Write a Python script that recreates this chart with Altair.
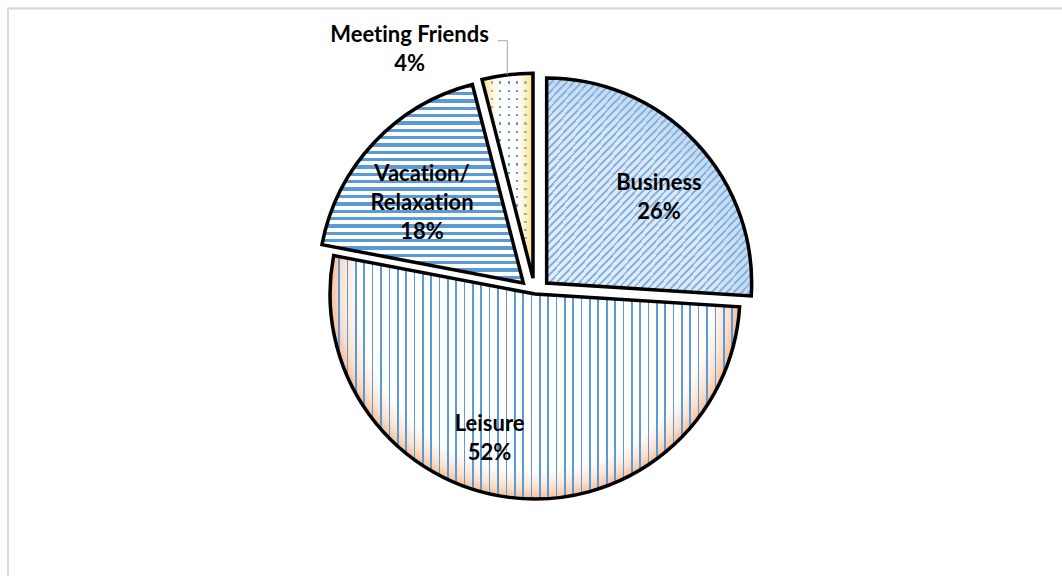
import math
import altair as alt
import pandas as pd

# Purpose of travel, share of respondents (%)
categories = ["Business", "Leisure", "Vacation/Relaxation", "Meeting Friends"]
shares = [26, 52, 18, 4]

df = pd.DataFrame({"category": categories, "share": shares, "order": list(range(len(categories)))})

# ---- layout / style -------------------------------------------------------
CX, CY = 535, 294          # pie centre (px)
R = 205                    # outer radius (px)
LABEL_R = 139              # default label distance from slice centre
LINE_H = 29                # label line height (px)
explode = {"Business": 16, "Leisure": 0, "Vacation/Relaxation": 16, "Meeting Friends": 16}
label_dx = {"Business": 11, "Leisure": -28, "Vacation/Relaxation": 0, "Meeting Friends": -106}
label_dy = {"Business": 10, "Leisure": 7, "Vacation/Relaxation": 15, "Meeting Friends": -91}
FONT = "Lato"
BLUE = "#5b9bd5"
CLEAR = "rgba(255,255,255,0)"


def by_cat(mapping):
    expr = " : ".join(f"datum.category === '{k}' ? {v}" for k, v in mapping.items())
    return f"({expr} : 0)"


def stop(color, offset):
    return alt.GradientStop(color=color, offset=round(min(max(offset, 0), 1), 5))


def stripes(n, frac, on, off, x2, y2):
    stops = []
    for i in range(n):
        a, b, c = i / n, (i + frac) / n, (i + 1) / n
        stops += [stop(on, a), stop(on, b), stop(off, b), stop(off, c)]
    return alt.LinearGradient(gradient="linear", stops=stops, x1=0, y1=0, x2=x2, y2=y2)


def radial(cx, cy, r, stops):
    return alt.RadialGradient(gradient="radial", x1=cx, y1=cy, r1=0, x2=cx, y2=cy, r2=r,
                              stops=[stop(c, o) for c, o in stops])


base = alt.Chart(df).transform_window(
    cum="sum(share)", sort=[alt.SortField("order")], frame=[None, 0]
).transform_calculate(
    start="datum.cum - datum.share",
    end="datum.cum",
    mid="(datum.cum - datum.share / 2) / 100 * 2 * PI",
    d=by_cat(explode),
    # label text: name (broken after a slash) and the share; a ZWNJ keeps "ti" from fusing
    label="replace(replace(datum.category, '/', '/\\n'), regexp('ti', 'g'), 't\u200ci')"
          " + '\\n' + datum.share + '%'",
).transform_calculate(
    px=f"{CX} + datum.d * sin(datum.mid)",
    py=f"{CY} - datum.d * cos(datum.mid)",
    nlines="length(split(datum.label, '\\n'))",
).transform_calculate(
    lx=f"datum.px + {LABEL_R} * sin(datum.mid) + {by_cat(label_dx)}",
    ly=f"datum.py - {LABEL_R} * cos(datum.mid) + {by_cat(label_dy)}",
    ax=f"datum.px + {R} * sin(datum.mid)",
    ay=f"datum.py - {R} * cos(datum.mid)",
).transform_calculate(
    # first-line position so that the whole block is centred on (lx, ly)
    ty=f"datum.ly - (datum.nlines - 1) / 2 * {LINE_H}",
)

theta_scale = alt.Scale(domain=[0, 100], range=[0, 2 * math.pi])
arc_enc = dict(
    theta=alt.Theta("start:Q", scale=theta_scale),
    theta2=alt.Theta2("end:Q"),
    x=alt.X("px:Q", scale=None, axis=None),
    y=alt.Y("py:Q", scale=None, axis=None),
)


def fill_layer(cat, fill):
    return base.transform_filter(f"datum.category === '{cat}'").mark_arc(
        radius=R, fill=fill, strokeWidth=0
    ).encode(**arc_enc)


layers = []

# Business: light blue with wide upward-diagonal hatching
layers.append(fill_layer("Business", radial(0.03, 0.94, 0.94, [
    ("#e4eef9", 0), ("#dae7f6", 0.8), ("#c2d9f0", 1)])))
layers.append(fill_layer("Business", stripes(55, 0.36, "#86b5e4", CLEAR, 1, 1)))

# Leisure: vertical lines over a white-to-peach glow
layers.append(fill_layer("Leisure", radial(0.5, 0.297, 0.5, [
    ("#ffffff", 0), ("#ffffff", 0.86), ("#fbe0cd", 0.95), ("#f6bd96", 1)])))
layers.append(fill_layer("Leisure", stripes(49, 0.2, BLUE, CLEAR, 1, 0)))

# Vacation / Relaxation: horizontal stripes
layers.append(fill_layer("Vacation/Relaxation", "#ffffff"))
layers.append(fill_layer("Vacation/Relaxation", stripes(27, 0.46, BLUE, CLEAR, 0, 1)))

# Meeting Friends: dotted grid with a yellow edge glow
layers.append(fill_layer("Meeting Friends", "#ffffff"))
layers.append(fill_layer("Meeting Friends", stripes(6, 0.28, BLUE, CLEAR, 1, 0)))
layers.append(fill_layer("Meeting Friends", stripes(25, 0.28, CLEAR, "#ffffff", 0, 1)))
layers.append(fill_layer("Meeting Friends", alt.LinearGradient(
    gradient="linear", x1=0, y1=0, x2=1, y2=0,
    stops=[stop("rgba(255,214,90,0.8)", 0), stop("rgba(255,230,150,0)", 0.35),
           stop("rgba(255,230,150,0)", 0.7), stop("rgba(255,214,90,0.8)", 1)])))

# slice outlines
layers.append(base.mark_arc(
    radius=R, fill="#ffffff", fillOpacity=0, stroke="#000000", strokeWidth=3.5, strokeJoin="miter"
).encode(**arc_enc))

# leader line for the outside label
outside = base.transform_filter("datum.category === 'Meeting Friends'").transform_calculate(
    hx="datum.lx + 88", hy="datum.ty + 6"
)
leader_h = outside.mark_rule(color="#a6a6a6", strokeWidth=1).encode(
    x=alt.X("hx:Q", scale=None), x2="ax:Q", y=alt.Y("hy:Q", scale=None)
)
leader_v = outside.mark_rule(color="#a6a6a6", strokeWidth=1).encode(
    x=alt.X("ax:Q", scale=None), y=alt.Y("hy:Q", scale=None), y2="ay:Q"
)
layers += [leader_h, leader_v]

# data labels
layers.append(base.mark_text(
    font=FONT, fontSize=22, fontWeight="bold", color="#000000",
    lineBreak="\n", lineHeight=LINE_H, align="center", baseline="middle"
).encode(
    x=alt.X("lx:Q", scale=None), y=alt.Y("ty:Q", scale=None), text="label:N"
))

# chart-area border
frame = alt.Chart(df).mark_rect(fill="#ffffff", fillOpacity=0, stroke="#d9d9d9", strokeWidth=1.5).encode(
    x=alt.value(8), y=alt.value(8.5), x2=alt.value(1100), y2=alt.value(620)
)

chart = alt.layer(frame, *layers).properties(
    width=1062, height=576, padding=0, autosize="none", background="#ffffff"
).configure_view(strokeWidth=0)

chart.save("out.html", embed_options={"renderer": "svg", "actions": False})
